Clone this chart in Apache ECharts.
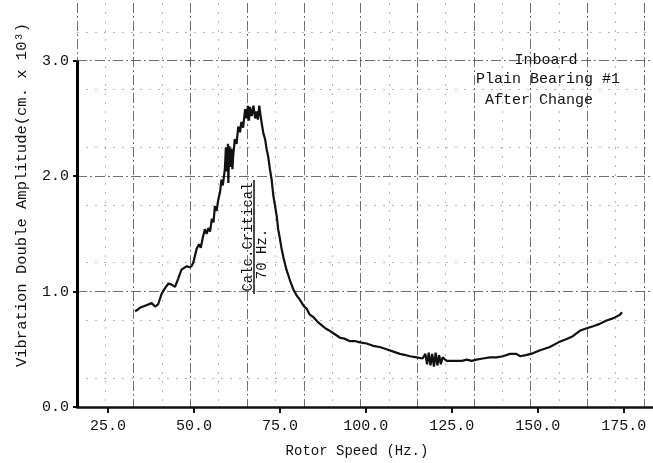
<!DOCTYPE html>
<html>
<head>
<meta charset="utf-8">
<script src="https://cdn.jsdelivr.net/npm/echarts@6/dist/echarts.min.js"></script>
<style>
  html, body { margin: 0; padding: 0; background: #fff; }
  #main { width: 653px; height: 463px; }
</style>
</head>
<body>
<div id="main"></div>
<script>
// values
var speedHz = [32.9, 33.5, 34.3, 36.0, 37.7, 38.7, 39.6, 40.6, 41.6, 42.6, 43.5, 44.5, 45.4, 46.4, 47.9, 48.7,
  49.3, 49.8, 50.8, 51.5, 52.0, 52.6, 53.2, 53.7, 54.2, 54.7, 55.2, 55.7, 56.1, 56.6, 57.1, 57.6, 58.0, 58.4,
  59.0, 59.3, 59.6, 59.9, 60.0, 60.3, 60.6, 60.9, 61.2, 61.4, 61.9, 62.4, 62.9, 63.4, 63.8, 64.3, 64.9, 65.3,
  65.7, 66.0, 66.3, 66.8, 67.3, 67.8, 68.2, 68.6, 69.0, 69.4, 69.7, 70.2, 70.7, 71.1, 71.6, 72.1, 72.6, 73.1,
  73.6, 74.1, 74.5, 75.0, 75.5, 76.0, 76.9, 77.9, 78.9, 79.8, 80.8, 81.8, 82.8, 83.7, 84.7, 85.9, 87.1, 88.3,
  89.5, 91.0, 92.5, 94.0, 95.4, 97.0, 98.3, 100.2, 102.1, 104.0, 106.0, 108.0, 109.9, 111.5, 112.8, 114.8,
  116.5, 117.3, 117.8, 118.3, 118.8, 119.3, 119.8, 120.3, 120.8, 121.3, 121.8, 122.3, 123.5, 125.0, 126.4,
  128.0, 129.3, 130.8, 132.2, 134.0, 136.1, 138.0, 139.9, 141.9, 143.8, 144.8, 146.5, 148.0, 150.5, 153.5,
  156.0, 158.4, 160.0, 162.2, 164.0, 166.1, 168.0, 170.0, 172.0, 173.9, 174.5];
var amplitude = [0.83, 0.84, 0.86, 0.88, 0.90, 0.87, 0.89, 0.98, 1.03, 1.07, 1.06, 1.04, 1.11, 1.19, 1.22, 1.21,
  1.22, 1.25, 1.37, 1.41, 1.38, 1.47, 1.54, 1.50, 1.55, 1.52, 1.63, 1.60, 1.74, 1.70, 1.80, 1.86, 1.97, 1.92,
  2.06, 2.25, 2.04, 2.28, 1.94, 2.26, 2.08, 2.24, 2.06, 2.17, 2.32, 2.28, 2.43, 2.38, 2.47, 2.42, 2.58, 2.50,
  2.61, 2.48, 2.60, 2.52, 2.61, 2.50, 2.56, 2.49, 2.61, 2.52, 2.46, 2.37, 2.32, 2.24, 2.17, 2.06, 1.97, 1.83,
  1.74, 1.65, 1.54, 1.46, 1.37, 1.30, 1.19, 1.10, 1.02, 0.97, 0.93, 0.88, 0.85, 0.80, 0.78, 0.74, 0.71, 0.68,
  0.66, 0.63, 0.60, 0.59, 0.57, 0.57, 0.56, 0.55, 0.53, 0.52, 0.50, 0.48, 0.46, 0.45, 0.44, 0.43,
  0.42, 0.46, 0.37, 0.47, 0.36, 0.46, 0.35, 0.47, 0.36, 0.45, 0.37, 0.43, 0.40, 0.40, 0.40,
  0.40, 0.41, 0.40, 0.41, 0.42, 0.43, 0.43, 0.44, 0.46, 0.46, 0.44, 0.45, 0.46, 0.49, 0.52,
  0.56, 0.59, 0.61, 0.66, 0.68, 0.70, 0.72, 0.75, 0.77, 0.80, 0.82];
var xTicks = [25, 50, 75, 100, 125, 150, 175];
var yTicks = [0, 1, 2, 3];

var mono = 'Liberation Mono';
var gridLine = { color: '#333', width: 1, type: [10, 3, 2, 3], opacity: 0.7 };
var minorLine = { color: '#777', width: 1, type: [2, 7], opacity: 0.55 };

var myChart = echarts.init(document.getElementById('main'));

myChart.setOption({
    animation: false,
    backgroundColor: '#fff',
    grid: { left: 77, right: 0, top: 3, bottom: 55 },
    xAxis: [{
        type: 'value',
        min: 16,
        max: 183.5,
        name: 'Rotor Speed (Hz.)',
        nameLocation: 'middle',
        nameGap: 37,
        nameTextStyle: { fontFamily: mono, fontSize: 14, color: '#111', padding: [0, 16, 0, 0] },
        axisLine: { show: true, lineStyle: { color: '#111', width: 2.5 } },
        axisTick: { show: true, customValues: xTicks, length: 6, lineStyle: { color: '#111', width: 2 } },
        axisLabel: {
            customValues: xTicks, margin: 12,
            fontFamily: mono, fontSize: 15, color: '#111',
            formatter: function (v) { return v.toFixed(1); }
        },
        splitLine: { show: false }
    }, {
        // chart-paper vertical rulings
        type: 'value',
        min: 0,
        max: 10.16,
        interval: 1,
        position: 'bottom',
        axisLine: { show: false },
        axisTick: { show: false },
        axisLabel: { show: false },
        splitLine: { show: true, lineStyle: gridLine },
        minorTick: { show: false, splitNumber: 2 },
        minorSplitLine: { show: true, lineStyle: minorLine }
    }],
    yAxis: {
        type: 'value',
        min: 0,
        max: 3.5,
        interval: 0.5,
        name: 'Vibration Double Amplitude(cm. x 10³)',
        nameLocation: 'middle',
        nameGap: 47,
        nameTextStyle: { fontFamily: mono, fontSize: 15.5, color: '#111', padding: [0, 0, 0, 20] },
        axisLine: { show: false },
        axisTick: { show: true, customValues: yTicks, length: 4, lineStyle: { color: '#111', width: 2 } },
        axisLabel: {
            customValues: yTicks, margin: 8,
            fontFamily: mono, fontSize: 15, color: '#111',
            formatter: function (v) { return v.toFixed(1); }
        },
        splitLine: { show: true, lineStyle: gridLine },
        minorTick: { show: false, splitNumber: 2 },
        minorSplitLine: { show: true, lineStyle: minorLine }
    },
    series: [{
        type: 'line',
        xAxisIndex: 0,
        data: speedHz.map(function (x, i) { return [x, amplitude[i]]; }),
        showSymbol: false,
        lineStyle: { color: '#111', width: 2.2 },
        markLine: {
            silent: true,
            symbol: 'none',
            label: { show: false },
            lineStyle: { color: '#000', width: 3, type: 'solid' },
            data: [[{ coord: [16, 0] }, { coord: [16, 3] }]]
        }
    }],
    graphic: [
        { type: 'text', x: 546, y: 60, style: { text: 'Inboard', fontFamily: mono, fontSize: 15, fill: '#111', align: 'center', verticalAlign: 'middle' } },
        { type: 'text', x: 548, y: 79, style: { text: 'Plain Bearing #1', fontFamily: mono, fontSize: 15, fill: '#111', align: 'center', verticalAlign: 'middle' } },
        { type: 'text', x: 539, y: 100, style: { text: 'After Change', fontFamily: mono, fontSize: 15, fill: '#111', align: 'center', verticalAlign: 'middle' } },
        { type: 'text', x: 248, y: 237, rotation: Math.PI / 2, style: { text: 'Calc.Critical', fontFamily: mono, fontSize: 14, fill: '#111', align: 'center', verticalAlign: 'middle' } },
        { type: 'line', shape: { x1: 254, y1: 180, x2: 254, y2: 294 }, style: { stroke: '#111', lineWidth: 1.5 } },
        { type: 'text', x: 262, y: 254, rotation: Math.PI / 2, style: { text: '70 Hz.', fontFamily: mono, fontSize: 14, fill: '#111', align: 'center', verticalAlign: 'middle' } }
    ]
});
</script>
</body>
</html>
